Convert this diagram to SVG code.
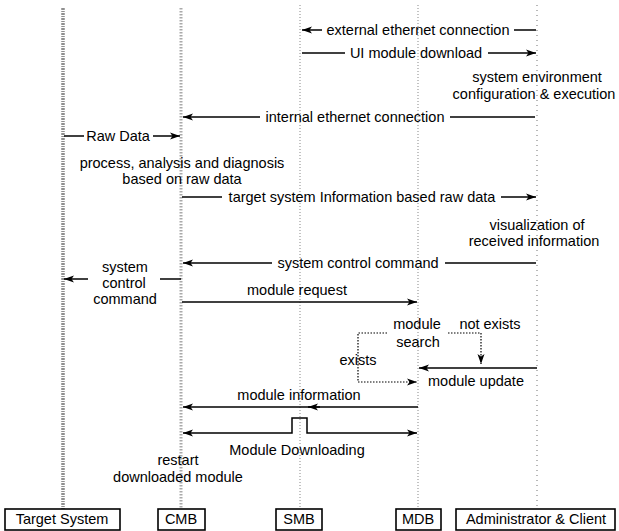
<svg xmlns="http://www.w3.org/2000/svg" width="619" height="531" viewBox="0 0 619 531">
<defs>
<style>
text{font-family:"Liberation Sans",Arial,sans-serif;font-size:14.5px;fill:#000;text-anchor:middle}
.box{fill:#fff;stroke:#000;stroke-width:1.6}
.msg{fill:none;stroke:#000;stroke-width:1.5}
.dot{fill:none;stroke:#000;stroke-width:1.2;stroke-dasharray:1.5 1.5}
.ll-ts{stroke:#8f8f8f;stroke-width:3.5;stroke-dasharray:2 1 1 1}
.ll-cmb{stroke:#aaa;stroke-width:3;stroke-dasharray:1.5 1.5}
.ll-mid{stroke:#bdbdbd;stroke-width:1.8;stroke-dasharray:1 2}
.ll-adm{stroke:#8a8a8a;stroke-width:1.2;stroke-dasharray:1 4}
</style>
<marker id="ah" viewBox="0 0 10 8" refX="10" refY="4" markerWidth="10" markerHeight="8" markerUnits="userSpaceOnUse" orient="auto-start-reverse">
<path d="M0,0.5 L10,4 L0,7.5 L2.5,4 Z" fill="#000"/>
</marker>
</defs>

<g id="target-system">
<line class="ll-ts" x1="63" y1="8" x2="63" y2="509"/>
<rect class="box" x="5" y="509" width="115" height="21"/>
<text x="62" y="524">Target System</text>
</g>
<g id="cmb">
<line class="ll-cmb" x1="181" y1="8" x2="181" y2="509"/>
<rect class="box" x="158" y="509" width="47" height="21"/>
<text x="181" y="524">CMB</text>
</g>
<g id="smb">
<line class="ll-mid" x1="300" y1="5" x2="300" y2="509"/>
<rect class="box" x="276" y="509" width="46" height="21"/>
<text x="299" y="524">SMB</text>
</g>
<g id="mdb">
<line class="ll-mid" x1="418" y1="5" x2="418" y2="509"/>
<rect class="box" x="396" y="509" width="45" height="21"/>
<text x="418" y="524">MDB</text>
</g>
<g id="admin-client">
<line class="ll-adm" x1="537" y1="5" x2="537" y2="509"/>
<rect class="box" x="456" y="509" width="159" height="21"/>
<text x="536" y="524">Administrator &amp; Client</text>
</g>

<g id="connectors">
<!-- external ethernet connection -->
<line class="msg" x1="536" y1="30" x2="514" y2="30"/>
<line class="msg" x1="322" y1="30" x2="302" y2="30" marker-end="url(#ah)"/>
<!-- UI module download -->
<line class="msg" x1="302" y1="53" x2="345" y2="53"/>
<line class="msg" x1="488" y1="53" x2="536" y2="53" marker-end="url(#ah)"/>
<!-- internal ethernet connection -->
<line class="msg" x1="535" y1="117" x2="450" y2="117"/>
<line class="msg" x1="260" y1="117" x2="183" y2="117" marker-end="url(#ah)"/>
<!-- Raw Data -->
<line class="msg" x1="64" y1="136" x2="84" y2="136"/>
<line class="msg" x1="153" y1="136" x2="180" y2="136" marker-end="url(#ah)"/>
<!-- target system information -->
<line class="msg" x1="182" y1="197" x2="222" y2="197"/>
<line class="msg" x1="501" y1="197" x2="536" y2="197" marker-end="url(#ah)"/>
<!-- system control command (admin to CMB) -->
<line class="msg" x1="536" y1="263" x2="445" y2="263"/>
<line class="msg" x1="272" y1="263" x2="183" y2="263" marker-end="url(#ah)"/>
<!-- system control command (CMB to target) -->
<line class="msg" x1="181" y1="279" x2="160" y2="279"/>
<line class="msg" x1="88" y1="279" x2="64" y2="279" marker-end="url(#ah)"/>
<!-- module request -->
<line class="msg" x1="182" y1="302" x2="417" y2="302" marker-end="url(#ah)"/>
<!-- not exists -->
<path class="dot" d="M448,333 H481 V364" marker-end="url(#ah)"/>
<!-- exists -->
<path class="dot" d="M387,333 H358 V382 H417" marker-end="url(#ah)"/>
<!-- module update -->
<line class="msg" x1="537" y1="368" x2="419" y2="368" marker-end="url(#ah)"/>
<!-- module information -->
<line class="msg" x1="418" y1="407" x2="183" y2="407" marker-end="url(#ah)"/>
<line class="msg" x1="320" y1="407" x2="308" y2="407" marker-end="url(#ah)"/>
<!-- Module Downloading -->
<path class="msg" d="M183,433 H292 V418 H307 V433 H417" marker-start="url(#ah)" marker-end="url(#ah)"/>
</g>

<g id="labels">
<text x="418" y="35">external ethernet connection</text>
<text x="416" y="58">UI module download</text>
<text x="537" y="82">system environment</text>
<text x="534" y="99">configuration &amp; execution</text>
<text x="355" y="122">internal ethernet connection</text>
<text x="118" y="141">Raw Data</text>
<text x="182" y="168">process, analysis and diagnosis</text>
<text x="182" y="184">based on raw data</text>
<text x="362" y="202">target system Information based raw data</text>
<text x="537" y="230">visualization of</text>
<text x="534" y="246">received information</text>
<text x="358" y="268">system control command</text>
<text x="125" y="272">system</text>
<text x="124" y="288">control</text>
<text x="125" y="304">command</text>
<text x="297" y="295">module request</text>
<text x="417" y="329">module</text>
<text x="418" y="347">search</text>
<text x="490" y="329">not exists</text>
<text x="358" y="365">exists</text>
<text x="476" y="386">module update</text>
<text x="299" y="400">module information</text>
<text x="297" y="455">Module Downloading</text>
<text x="178" y="465">restart</text>
<text x="178" y="482">downloaded module</text>
</g>
</svg>
